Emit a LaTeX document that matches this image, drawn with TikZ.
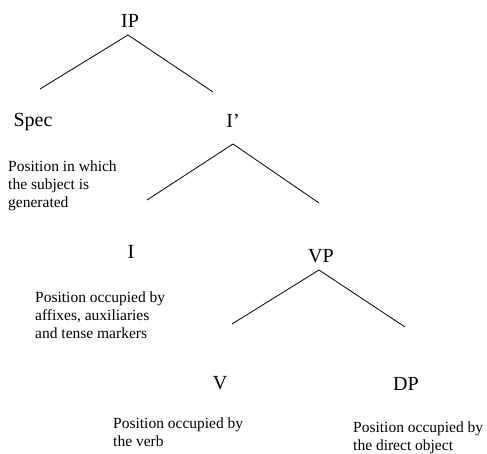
\documentclass[tikz,border=0pt]{standalone}
\usepackage{fontspec}
\setmainfont{Liberation Serif}
\begin{document}
\begin{tikzpicture}[x=1pt,y=-1pt,
  cat/.style={inner sep=0pt, anchor=base, font=\fontsize{20}{24}\selectfont},
  note/.style={inner sep=0pt, anchor=north west, align=left, font=\fontsize{15.5}{18}\selectfont},
  branch/.style={line width=0.8pt}]
\useasboundingbox (0,0) rectangle (487,454);
% category labels
\node[cat] (IP) at (130,28) {IP};
\node[cat] (Spec) at (33,127) {Spec};
\node[cat] (Ibar) at (233,128) {I'};
\node[cat] (I) at (131,259) {I};
\node[cat] (VP) at (321,262) {VP};
\node[cat] (V) at (220,389) {V};
\node[cat] (DP) at (406,390) {DP};
% branch points
\coordinate (IPtop) at (128,35);
\coordinate (IPl) at (40,89);
\coordinate (IPr) at (213,92);
\coordinate (Ibartop) at (233,144);
\coordinate (Ibarl) at (147,200);
\coordinate (Ibarr) at (319,203);
\coordinate (VPtop) at (319,270);
\coordinate (VPl) at (232,324);
\coordinate (VPr) at (405,327);
\draw[branch] (IPl) -- (IPtop) -- (IPr);
\draw[branch] (Ibarl) -- (Ibartop) -- (Ibarr);
\draw[branch] (VPl) -- (VPtop) -- (VPr);
% notes
\node[note] (n1) at (8,161) {Position in which\\the subject is\\generated};
\node[note] (n2) at (35,292) {Position occupied by\\affixes, auxiliaries\\and tense markers};
\node[note] (n3) at (113,418) {Position occupied by\\the verb};
\node[note] (n4) at (353,422) {Position occupied by\\the direct object};
\end{tikzpicture}
\end{document}
